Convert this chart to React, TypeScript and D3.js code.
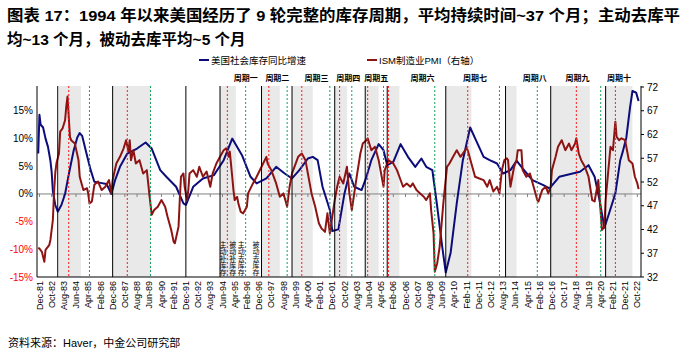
import React, { useEffect, useRef } from 'react';
import * as d3 from 'd3';

// 美国社会库存同比增速 (%), left axis
const invDates = [
  '1981-11', '1981-12', '1982-01', '1982-03', '1982-05', '1982-07', '1982-09', '1982-10', '1982-11', '1983-01',
  '1983-03', '1983-06', '1983-09', '1983-12', '1984-04', '1984-07', '1984-09', '1984-11', '1985-02', '1985-06',
  '1985-09', '1986-02', '1986-07', '1986-11', '1987-02', '1987-06', '1987-12', '1988-08', '1989-03', '1989-08',
  '1990-03', '1990-08', '1991-04', '1991-10', '1991-12', '1992-06', '1993-02', '1993-11', '1994-07', '1995-02',
  '1995-10', '1996-05', '1996-10', '1997-06', '1998-02', '1998-09', '1999-03', '1999-09', '2000-04', '2000-08',
  '2000-12', '2001-04', '2001-10', '2001-12', '2002-05', '2002-10', '2003-02', '2003-06', '2003-12', '2004-04',
  '2004-08', '2005-02', '2005-06', '2005-09', '2006-02', '2006-08', '2007-02', '2007-08', '2008-01', '2008-05',
  '2008-10', '2009-02', '2009-06', '2009-09', '2010-01', '2010-06', '2010-11', '2011-05', '2011-10', '2012-04',
  '2012-09', '2013-03', '2013-08', '2014-02', '2014-07', '2014-12', '2015-08', '2016-05', '2016-10', '2017-06',
  '2018-05', '2018-11', '2019-06', '2019-11', '2020-03', '2020-07', '2020-11', '2021-04', '2021-08', '2021-10',
  '2022-01', '2022-04', '2022-06', '2022-09', '2022-11',
];
const invValues = [
  7.3, 14.3, 12.5, 12.0, 10.0, 8.5, 6.0, 4.0, 0.5, -2.0,
  -3.2, -2.0, 0.0, 3.5, 7.8, 10.2, 11.0, 10.5, 7.8, 4.3,
  2.2, 2.0, 1.8, 0.0, 2.5, 4.9, 7.3, 8.2, 9.3, 8.2,
  4.3, 3.1, 1.3, -1.7, -2.0, 1.3, 2.8, 3.4, 6.1, 10.0,
  7.0, 3.1, 1.9, 2.8, 4.9, 3.7, 2.8, 4.3, 6.4, 6.7,
  6.1, 1.3, -2.9, -6.7, -6.4, 0.1, 3.7, 1.3, 0.7, 3.1,
  6.1, 9.0, 7.9, 5.2, 5.8, 9.0, 6.7, 4.9, 6.4, 4.9,
  4.3, -2.3, -9.4, -14.2, -10.6, -1.7, 6.1, 12.0, 9.6, 6.7,
  6.1, 5.5, 3.7, 4.3, 6.0, 4.6, 2.5, 1.6, 1.0, 3.1,
  3.7, 4.0, 5.2, 3.1, -1.1, -6.1, -3.4, 0.1, 6.1, 7.6,
  10.2, 15.6, 18.6, 18.3, 16.8,
];

// ISM制造业PMI, right axis
const pmiDates = [
  '1981-11', '1981-12', '1982-02', '1982-04', '1982-05', '1982-08', '1982-09', '1982-11', '1982-12', '1983-01',
  '1983-02', '1983-04', '1983-05', '1983-07', '1983-09', '1983-10', '1983-11', '1984-01', '1984-02', '1984-05',
  '1984-08', '1984-09', '1984-12', '1985-03', '1985-04', '1985-05', '1985-07', '1985-09', '1985-12', '1986-03',
  '1986-06', '1986-09', '1986-11', '1986-12', '1987-03', '1987-06', '1987-09', '1987-11', '1988-01', '1988-02',
  '1988-03', '1988-05', '1988-07', '1988-10', '1989-01', '1989-04', '1989-06', '1989-08', '1989-10', '1990-01',
  '1990-04', '1990-07', '1990-09', '1990-12', '1991-02', '1991-03', '1991-06', '1991-07', '1991-08', '1991-10',
  '1991-11', '1992-01', '1992-02', '1992-03', '1992-06', '1992-09', '1992-11', '1993-02', '1993-05', '1993-08',
  '1993-10', '1994-01', '1994-04', '1994-07', '1994-09', '1994-11', '1994-12', '1995-02', '1995-03', '1995-04',
  '1995-06', '1995-07', '1995-09', '1995-11', '1996-02', '1996-03', '1996-07', '1996-10', '1997-02', '1997-06',
  '1997-07', '1997-10', '1998-02', '1998-05', '1998-08', '1998-11', '1999-01', '1999-03', '1999-05', '1999-08',
  '1999-11', '2000-02', '2000-04', '2000-07', '2000-10', '2001-01', '2001-03', '2001-06', '2001-08', '2001-10',
  '2001-12', '2002-02', '2002-04', '2002-06', '2002-09', '2002-12', '2003-02', '2003-04', '2003-06', '2003-08',
  '2003-11', '2004-01', '2004-04', '2004-05', '2004-08', '2004-11', '2005-02', '2005-04', '2005-06', '2005-07',
  '2005-10', '2006-02', '2006-05', '2006-07', '2006-10', '2007-01', '2007-04', '2007-06', '2007-09', '2007-12',
  '2008-03', '2008-05', '2008-08', '2008-09', '2008-11', '2008-12', '2009-02', '2009-04', '2009-07', '2009-10',
  '2009-12', '2010-03', '2010-06', '2010-09', '2010-11', '2011-02', '2011-03', '2011-06', '2011-09', '2011-12',
  '2012-04', '2012-07', '2012-09', '2012-12', '2013-03', '2013-05', '2013-07', '2013-09', '2013-11', '2013-12',
  '2014-02', '2014-05', '2014-07', '2014-08', '2014-11', '2014-12', '2015-03', '2015-06', '2015-09', '2015-12',
  '2016-01', '2016-04', '2016-07', '2016-09', '2016-11', '2016-12', '2017-03', '2017-05', '2017-08', '2017-11',
  '2018-02', '2018-04', '2018-07', '2018-08', '2018-10', '2018-12', '2019-03', '2019-06', '2019-09', '2019-11',
  '2020-02', '2020-03', '2020-05', '2020-07', '2020-08', '2020-10', '2020-12', '2021-02', '2021-04', '2021-05',
  '2021-07', '2021-09', '2021-12', '2022-03', '2022-06', '2022-08', '2022-10', '2022-11',
];
const pmiValues = [
  38.1, 38.0, 37.3, 35.2, 37.7, 38.7, 39.8, 44.0, 50.0, 54.0,
  56.0, 58.0, 62.6, 63.3, 65.0, 67.9, 70.0, 61.5, 60.8, 60.1,
  56.6, 53.1, 50.3, 50.7, 49.6, 47.5, 47.9, 51.4, 52.1, 50.3,
  51.0, 52.4, 49.6, 52.4, 55.9, 57.3, 59.1, 60.8, 58.4, 60.8,
  56.6, 58.7, 55.9, 56.6, 53.8, 54.5, 49.6, 45.1, 46.1, 46.8,
  48.2, 46.8, 44.7, 41.9, 39.4, 39.1, 42.6, 48.2, 53.1, 53.8,
  51.0, 48.2, 50.3, 53.8, 54.5, 53.1, 55.2, 53.1, 54.2, 51.0,
  53.8, 55.9, 57.3, 58.7, 59.1, 57.3, 58.4, 53.1, 50.3, 48.2,
  48.9, 47.5, 45.7, 45.4, 46.8, 49.6, 51.7, 53.1, 55.2, 57.3,
  55.9, 54.5, 51.7, 48.9, 49.6, 46.8, 51.0, 53.8, 55.2, 57.3,
  58.0, 56.6, 53.8, 49.6, 46.8, 43.3, 42.3, 41.5, 45.4, 41.2,
  44.7, 48.2, 51.0, 53.1, 51.7, 55.2, 49.6, 46.1, 49.6, 53.1,
  58.0, 60.1, 60.8, 61.2, 58.7, 59.4, 56.6, 53.8, 51.0, 54.5,
  56.6, 55.9, 54.5, 53.1, 51.0, 51.7, 51.0, 51.7, 50.3, 49.6,
  48.9, 48.2, 49.6, 46.1, 41.2, 33.1, 34.9, 38.4, 47.5, 55.2,
  55.9, 57.3, 58.7, 57.3, 58.0, 59.1, 58.7, 55.9, 53.1, 52.8,
  52.4, 51.0, 52.4, 50.0, 51.0, 49.6, 54.5, 56.6, 57.0, 56.6,
  51.0, 55.2, 56.6, 58.7, 58.7, 54.5, 53.1, 53.8, 51.0, 48.2,
  47.9, 50.3, 51.0, 49.6, 51.0, 54.5, 57.3, 59.4, 60.8, 58.7,
  60.1, 58.7, 60.1, 61.2, 58.0, 56.6, 55.2, 53.1, 48.2, 47.9,
  52.4, 49.0, 41.9, 42.6, 48.2, 53.8, 59.4, 58.7, 64.7, 61.5,
  60.8, 61.2, 60.8, 56.6, 55.9, 53.1, 51.7, 50.5,
];

const xTickLabels = [
  'Dec-81', 'Oct-82', 'Aug-83', 'Jun-84', 'Apr-85', 'Feb-86', 'Dec-86', 'Oct-87', 'Aug-88', 'Jun-89',
  'Apr-90', 'Feb-91', 'Dec-91', 'Oct-92', 'Aug-93', 'Jun-94', 'Apr-95', 'Feb-96', 'Dec-96', 'Oct-97',
  'Aug-98', 'Jun-99', 'Apr-00', 'Feb-01', 'Dec-01', 'Oct-02', 'Aug-03', 'Jun-04', 'Apr-05', 'Feb-06',
  'Dec-06', 'Oct-07', 'Aug-08', 'Jun-09', 'Apr-10', 'Feb-11', 'Dec-11', 'Oct-12', 'Aug-13', 'Jun-14',
  'Apr-15', 'Feb-16', 'Dec-16', 'Oct-17', 'Aug-18', 'Jun-19', 'Apr-20', 'Feb-21', 'Dec-21', 'Oct-22',
];
const leftTicks = [-15, -10, -5, 0, 5, 10, 15];
const rightTicks = [32, 37, 42, 47, 52, 57, 62, 67, 72];

// cycle markers
const cycleLines = ['1983-03', '1986-12', '1991-12', '1994-04', '1997-02', '1999-03', '2002-02', '2004-03', '2005-09', '2009-09', '2013-10', '2016-11', '2020-08'];
const redLines = ['1983-12', '1987-12', '1994-10', '1997-08', '1999-11', '2002-06', '2004-05', '2005-10', '2011-03', '2018-08', '2021-04'];
const greenLines = ['1985-05', '1989-07', '1996-01', '1998-11', '2001-10', '2003-04', '2005-06', '2008-12', '2013-05', '2015-12', '2020-04'];
const shadeStarts = ['1983-04', '1986-12', '1994-04', '1997-02', '1999-03', '2002-02', '2004-03', '2005-09', '2009-09', '2013-10', '2016-11', '2020-08'];
const shadeEnds = ['1984-10', '1989-07', '1995-05', '1998-05', '2000-08', '2002-12', '2005-02', '2006-07', '2011-06', '2014-07', '2019-07', '2022-06'];

const cycleNames = ['周期一', '周期二', '周期三', '周期四', '周期五', '周期六', '周期七', '周期八', '周期九', '周期十'];
const cycleLabelDates = ['1996-01', '1998-03', '2000-11', '2003-01', '2004-12', '2008-02', '2011-09', '2015-10', '2018-09', '2021-07'];
const phaseNames = ['主动补库存', '被动补库存', '主动去库存', '被动去库存'];
const phaseDates = ['1994-06', '1995-02', '1995-09', '1996-09'];

const FONT = '"Liberation Sans", Arial, "Noto Sans CJK SC", sans-serif';
const BLUE = '#0c0c7a';
const DARKRED = '#8e1414';

const parseYM = d3.timeParse('%Y-%m');
const parseLabel = d3.timeParse('%b-%y');
const monthIndex = (d: Date) => (d.getFullYear() - 1982) * 12 + d.getMonth() + 1;
const ym = (s: string) => monthIndex(parseYM(s) as Date);

const App = () => {
  const svgRef = useRef<SVGSVGElement>(null);

  useEffect(() => {
    const width = 685;
    const height = 353;
    const plot = { left: 37, right: 641, top: 86, bottom: 277 };

    const svg = d3.select(svgRef.current).attr('width', width).attr('height', height);
    svg.selectAll('*').remove();

    svg.append('rect').attr('width', width).attr('height', height).attr('fill', '#fff');

    const x = d3.scaleLinear().domain([-2, 493]).range([plot.left, plot.right]);
    const yL = d3.scaleLinear().domain([-15, 19.5]).range([plot.bottom, plot.top]);
    const yR = d3.scaleLinear().domain([32, 72]).range([plot.bottom, plot.top + 1]);

    // Title
    const title = svg.append('g').attr('font-family', FONT).attr('font-weight', 'bold').attr('font-size', 15.5).attr('fill', '#000');
    title.append('text').attr('x', 7).attr('y', 21).attr('textLength', 673).attr('lengthAdjust', 'spacingAndGlyphs')
      .text('图表 17：1994 年以来美国经历了 9 轮完整的库存周期，平均持续时间~37 个月；主动去库平');
    title.append('text').attr('x', 7).attr('y', 45).text('均~13 个月，被动去库平均~5 个月');

    // Legend
    const legend = svg.append('g').attr('font-family', FONT).attr('font-size', 9.5);
    legend.append('line').attr('x1', 199).attr('x2', 209).attr('y1', 60).attr('y2', 60).attr('stroke', BLUE).attr('stroke-width', 2);
    legend.append('text').attr('x', 211).attr('y', 63.5).text('美国社会库存同比增速');
    legend.append('line').attr('x1', 367).attr('x2', 377).attr('y1', 60).attr('y2', 60).attr('stroke', DARKRED).attr('stroke-width', 2);
    legend.append('text').attr('x', 379).attr('y', 63.5).text('ISM制造业PMI（右轴）');

    // Shaded phases
    svg.append('g').selectAll('rect').data(shadeStarts).join('rect')
      .attr('x', (d) => x(ym(d)))
      .attr('width', (d, i) => x(ym(shadeEnds[i])) - x(ym(d)))
      .attr('y', plot.top).attr('height', plot.bottom - plot.top)
      .attr('fill', '#e9e9e9');

    // Zero line with ticks
    const y0 = yL(0);
    svg.append('line').attr('x1', plot.left).attr('x2', plot.right).attr('y1', y0).attr('y2', y0).attr('stroke', '#808080').attr('stroke-width', 1);
    svg.append('g').selectAll('line').data(xTickLabels).join('line')
      .attr('x1', (d) => x(monthIndex(parseLabel(d) as Date)))
      .attr('x2', (d) => x(monthIndex(parseLabel(d) as Date)))
      .attr('y1', y0).attr('y2', y0 + 3)
      .attr('stroke', '#808080');

    // Series
    const invData = invDates.map((d, i) => ({ m: ym(d), v: invValues[i] }));
    const pmiData = pmiDates.map((d, i) => ({ m: ym(d), v: pmiValues[i] }));

    const invLine = d3.line<{ m: number; v: number }>().x((d) => x(d.m)).y((d) => yL(d.v));
    const pmiLine = d3.line<{ m: number; v: number }>().x((d) => x(d.m)).y((d) => yR(d.v));

    svg.append('path').datum(invData).attr('d', invLine).attr('fill', 'none').attr('stroke', BLUE).attr('stroke-width', 2).attr('stroke-linejoin', 'round');
    svg.append('path').datum(pmiData).attr('d', pmiLine).attr('fill', 'none').attr('stroke', DARKRED).attr('stroke-width', 2).attr('stroke-linejoin', 'round');

    // Vertical markers
    const vlines = (dates: string[], color: string, dash: string | null, w: number) => {
      const sel = svg.append('g').selectAll('line').data(dates).join('line')
        .attr('x1', (d) => x(ym(d))).attr('x2', (d) => x(ym(d)))
        .attr('y1', plot.top).attr('y2', plot.bottom)
        .attr('stroke', color).attr('stroke-width', w);
      if (dash) sel.attr('stroke-dasharray', dash);
    };
    vlines(cycleLines, '#000', null, 1);
    vlines(greenLines, '#14a05a', '2,2', 1);
    vlines(redLines, '#ff1a1a', '2,2', 1);

    // Cycle labels
    svg.append('g').selectAll('text').data(cycleNames).join('text')
      .attr('x', (d, i) => x(ym(cycleLabelDates[i])))
      .attr('y', 81)
      .attr('text-anchor', 'middle')
      .attr('font-family', FONT).attr('font-size', 8).attr('font-weight', 'bold')
      .text((d) => d);

    // Phase annotations (vertical text, one element per phase)
    svg.append('g').selectAll('text').data(phaseNames).join('text')
      .attr('x', (d, i) => x(ym(phaseDates[i])))
      .attr('y', 241)
      .style('writing-mode', 'vertical-rl')
      .attr('font-family', FONT).attr('font-size', 7)
      .text((d) => d);

    // Axes frame
    svg.append('line').attr('x1', plot.left).attr('x2', plot.left).attr('y1', plot.top).attr('y2', plot.bottom).attr('stroke', '#000');
    svg.append('line').attr('x1', plot.right).attr('x2', plot.right).attr('y1', plot.top).attr('y2', plot.bottom).attr('stroke', '#000');
    svg.append('line').attr('x1', plot.left).attr('x2', plot.right).attr('y1', plot.bottom).attr('y2', plot.bottom).attr('stroke', '#000');

    // Left axis labels
    svg.append('g').selectAll('text').data(leftTicks).join('text')
      .attr('x', 33).attr('y', (d) => yL(d)).attr('dy', '0.35em')
      .attr('text-anchor', 'end')
      .attr('font-family', FONT).attr('font-size', 10)
      .attr('fill', (d) => (d < 0 ? '#ff0000' : '#000'))
      .text((d) => `${d}%`);

    // Right axis ticks and labels
    const right = svg.append('g');
    right.selectAll('line').data(rightTicks).join('line')
      .attr('x1', plot.right).attr('x2', plot.right + 3)
      .attr('y1', (d) => yR(d)).attr('y2', (d) => yR(d))
      .attr('stroke', '#000');
    right.selectAll('text').data(rightTicks).join('text')
      .attr('x', 647).attr('y', (d) => yR(d)).attr('dy', '0.35em')
      .attr('font-family', FONT).attr('font-size', 10)
      .text((d) => d);

    // X axis labels
    svg.append('g').selectAll('text').data(xTickLabels).join('text')
      .attr('transform', (d) => `translate(${x(monthIndex(parseLabel(d) as Date))}, 281) rotate(-90)`)
      .attr('dy', '0.35em')
      .attr('text-anchor', 'end')
      .attr('font-family', FONT).attr('font-size', 9)
      .text((d) => d);

    // Source
    svg.append('text').attr('x', 8).attr('y', 347).attr('font-family', FONT).attr('font-size', 11)
      .text('资料来源：Haver，中金公司研究部');
  }, []);

  return (
    <svg ref={svgRef} style={{ position: 'absolute', left: 0, top: 0, display: 'block' }}></svg>
  );
};

export default App;
